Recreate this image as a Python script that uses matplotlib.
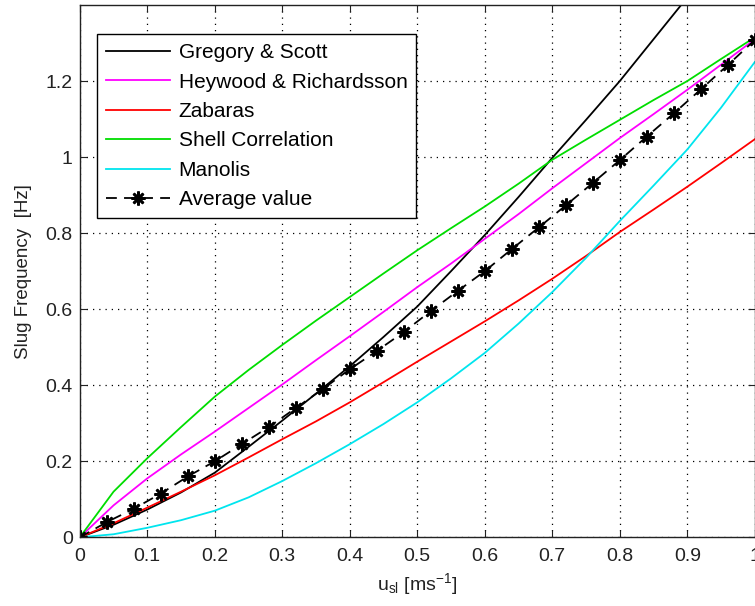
import matplotlib
matplotlib.use("Agg")
import matplotlib.pyplot as plt

plt.rcParams['font.family'] = ['Liberation Sans', 'DejaVu Sans']
plt.rcParams['mathtext.fontset'] = 'custom'
plt.rcParams['mathtext.rm'] = 'Liberation Sans'
plt.rcParams['mathtext.it'] = 'Liberation Sans:italic'

# superficial liquid velocity [m/s] for the correlation curves
u_sl = [0, 0.05, 0.1, 0.15, 0.2, 0.25, 0.3, 0.35, 0.4, 0.45, 0.5,
        0.55, 0.6, 0.65, 0.7, 0.75, 0.8, 0.85, 0.9, 0.95, 1.0]

gregory_scott = [0, 0.033, 0.073, 0.118, 0.17, 0.238, 0.307, 0.378, 0.45, 0.527, 0.607,
                 0.70, 0.795, 0.895, 0.998, 1.098, 1.2, 1.31, 1.42, 1.53, 1.65]
heywood = [0, 0.084, 0.155, 0.218, 0.278, 0.34, 0.402, 0.466, 0.529, 0.593, 0.658,
           0.72, 0.785, 0.85, 0.918, 0.984, 1.05, 1.113, 1.177, 1.243, 1.31]
zabaras = [0, 0.037, 0.078, 0.12, 0.163, 0.21, 0.258, 0.305, 0.355, 0.408, 0.462,
           0.515, 0.568, 0.623, 0.68, 0.74, 0.803, 0.862, 0.922, 0.984, 1.047]
shell = [0, 0.12, 0.208, 0.29, 0.37, 0.44, 0.506, 0.57, 0.632, 0.694, 0.755,
         0.813, 0.87, 0.93, 0.993, 1.046, 1.098, 1.15, 1.2, 1.258, 1.315]
manolis = [0, 0.008, 0.025, 0.045, 0.07, 0.105, 0.148, 0.195, 0.245, 0.298, 0.355,
           0.418, 0.485, 0.562, 0.645, 0.735, 0.832, 0.925, 1.02, 1.13, 1.25]

# average of the correlations, every 0.04 m/s
u_avg = [0, 0.04, 0.08, 0.12, 0.16, 0.2, 0.24, 0.28, 0.32, 0.36, 0.4, 0.44, 0.48,
         0.52, 0.56, 0.6, 0.64, 0.68, 0.72, 0.76, 0.8, 0.84, 0.88, 0.92, 0.96, 1.0]
avg = [0, 0.04, 0.075, 0.115, 0.16, 0.2, 0.245, 0.29, 0.34, 0.39, 0.442, 0.49, 0.54,
       0.595, 0.648, 0.70, 0.758, 0.815, 0.873, 0.932, 0.992, 1.054, 1.115, 1.178, 1.242, 1.308]

x_ticks = [0, 0.1, 0.2, 0.3, 0.4, 0.5, 0.6, 0.7, 0.8, 0.9, 1.0]
x_labels = ['0', '0.1', '0.2', '0.3', '0.4', '0.5', '0.6', '0.7', '0.8', '0.9', '1']
y_ticks = [0, 0.2, 0.4, 0.6, 0.8, 1.0, 1.2]
y_labels = ['0', '0.2', '0.4', '0.6', '0.8', '1', '1.2']

fig = plt.figure(figsize=(7.55, 6.06), dpi=100)
ax = fig.add_axes([79.8 / 755, 68.7 / 606, 675 / 755, 532.3 / 606])

lw = 1.3
ax.plot(u_sl, gregory_scott, color='k', lw=lw, label='Gregory & Scott')
ax.plot(u_sl, heywood, color='#ff00ff', lw=lw, label='Heywood & Richardsson')
ax.plot(u_sl, zabaras, color='#ff0000', lw=lw, label='Zabaras')
ax.plot(u_sl, shell, color='#00dd00', lw=lw, label='Shell Correlation')
ax.plot(u_sl, manolis, color='#00e5ee', lw=lw, label='Manolis')
ax.plot(u_avg, avg, color='k', lw=1.3, linestyle=(0, (6, 4)),
        marker=(8, 2, 0), markersize=10, markeredgewidth=1.9, label='Average value')

ax.set_xlim(0, 1)
ax.set_ylim(0, 1.4)
ax.set_xticks(x_ticks)
ax.set_xticklabels(x_labels)
ax.set_yticks(y_ticks)
ax.set_yticklabels(y_labels)
ax.tick_params(direction='in', top=True, right=True, labelsize=14, length=5,
               colors='#222222', labelcolor='#222222')
ax.tick_params(axis='x', pad=8)
ax.tick_params(axis='y', pad=5)
ax.grid(True, color='k', linestyle=(0, (1, 4)), linewidth=0.9)
for s in ax.spines.values():
    s.set_color('#222222')
    s.set_linewidth(1.0)

ax.set_xlabel(r'u$_{\rm sl}$ [ms$^{-1}$]', fontsize=14, color='#222222', labelpad=4)
ax.set_ylabel('Slug Frequency  [Hz]', fontsize=13.5, color='#222222', labelpad=10)

leg = ax.legend(loc='upper left', bbox_to_anchor=(0.025, 0.945), borderaxespad=0,
                fontsize=15, frameon=True, fancybox=False, framealpha=1,
                edgecolor='k', handlelength=3.1, handletextpad=0.4,
                labelspacing=0.5, borderpad=0.43, numpoints=1)
leg.get_frame().set_linewidth(1.0)

fig.savefig('out.png', dpi=100)
